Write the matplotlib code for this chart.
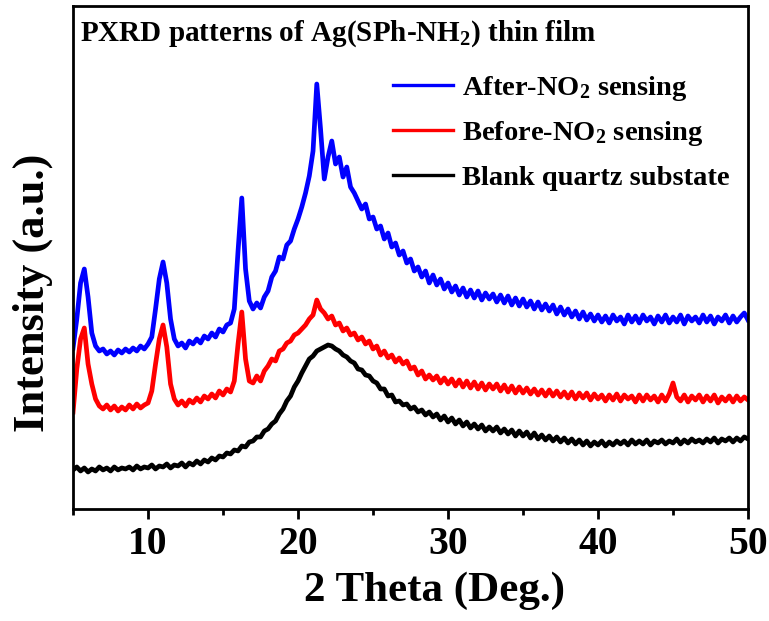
import numpy as np
import matplotlib
matplotlib.use("Agg")
import matplotlib.pyplot as plt
from matplotlib.ticker import MultipleLocator

plt.rcParams['font.family'] = ['Liberation Serif', 'DejaVu Serif']
plt.rcParams['font.weight'] = 'bold'
plt.rcParams['mathtext.fontset'] = 'custom'
plt.rcParams['mathtext.rm'] = 'Liberation Serif:bold'
plt.rcParams['mathtext.bf'] = 'Liberation Serif:bold'
plt.rcParams['mathtext.it'] = 'Liberation Serif:bold'

# 2 theta grid: 5.00 .. 50.00 in 0.25 deg steps
two_theta = np.arange(5.0, 50.001, 0.25)

after_no2 = [
    161, 190, 226, 240, 212, 176, 163, 158,
    160, 155, 158, 154, 159, 156, 160, 157,
    161, 158, 163, 160, 165, 172, 200, 230,
    247, 226, 190, 170, 163, 166, 161, 168,
    165, 170, 166, 173, 170, 176, 172, 180,
    177, 184, 186, 200, 258, 311, 240, 208,
    200, 206, 201, 212, 218, 232, 238, 252,
    250, 264, 268, 280, 290, 302, 316, 333,
    358, 425, 380, 330, 352, 368, 345, 352,
    332, 342, 322, 316, 308, 300, 305, 290,
    292, 280, 283, 270, 276, 262, 266, 254,
    258, 246, 250, 238, 242, 232, 238, 226,
    234, 224, 230, 220, 226, 217, 223, 214,
    221, 212, 219, 211, 218, 209, 216, 210,
    215, 207, 214, 206, 213, 204, 211, 203,
    210, 202, 208, 200, 207, 199, 205, 198,
    204, 195, 202, 194, 200, 192, 198, 190,
    197, 189, 195, 188, 194, 187, 193, 186,
    194, 188, 192, 185, 194, 187, 193, 186,
    194, 188, 192, 185, 193, 187, 194, 186,
    192, 187, 194, 185, 193, 188, 192, 186,
    194, 187, 193, 185, 192, 188, 194, 186,
    193, 187, 192, 196, 189,
]

before_no2 = [
    97, 140, 170, 181, 145, 125, 110, 103,
    100, 104, 99, 103, 98, 102, 99, 104,
    100, 105, 101, 104, 106, 118, 145, 170,
    184, 162, 125, 110, 104, 108, 103, 109,
    106, 111, 107, 113, 110, 115, 111, 118,
    114, 120, 117, 128, 165, 197, 150, 128,
    126, 133, 128, 138, 143, 150, 148, 158,
    160, 166, 168, 174, 176, 180, 184, 190,
    194, 209, 200, 196, 190, 193, 184, 186,
    178, 181, 174, 176, 169, 172, 165, 168,
    160, 163, 154, 158, 151, 154, 147, 151,
    145, 148, 140, 142, 134, 138, 130, 134,
    129, 133, 126, 131, 125, 130, 123, 129,
    122, 128, 121, 127, 120, 126, 119, 125,
    120, 125, 118, 124, 117, 123, 116, 122,
    116, 121, 115, 120, 114, 119, 113, 119,
    113, 118, 112, 117, 111, 117, 110, 116,
    111, 116, 109, 115, 110, 114, 108, 114,
    109, 115, 108, 114, 110, 113, 107, 114,
    108, 114, 109, 113, 107, 114, 108, 115,
    126, 112, 108, 114, 107, 113, 109, 114,
    107, 113, 108, 114, 106, 112, 108, 113,
    107, 113, 108, 112, 109,
]

blank_quartz = [
    39, 42, 38, 41, 37, 40, 38, 42,
    39, 41, 38, 42, 39, 41, 40, 42,
    39, 43, 40, 42, 41, 44, 40, 43,
    42, 45, 41, 44, 43, 46, 42, 46,
    44, 48, 45, 49, 47, 51, 49, 53,
    52, 56, 55, 59, 58, 63, 62, 67,
    68, 72, 72, 78, 80, 85, 88, 95,
    100, 108, 113, 122, 128, 136, 143, 150,
    153, 158, 160, 162, 164, 163, 160, 158,
    154, 152, 148, 146, 140, 139, 134, 133,
    128, 126, 120, 120, 113, 114, 107, 108,
    104, 105, 100, 102, 97, 99, 94, 97,
    92, 95, 89, 93, 87, 91, 85, 89,
    83, 87, 81, 85, 80, 84, 78, 82,
    78, 82, 76, 80, 75, 79, 73, 78,
    73, 77, 71, 76, 70, 74, 69, 73,
    68, 72, 67, 71, 66, 70, 65, 69,
    64, 68, 63, 67, 64, 68, 63, 67,
    64, 68, 65, 68, 64, 69, 65, 68,
    65, 69, 64, 68, 66, 69, 65, 68,
    66, 70, 65, 69, 66, 70, 67, 69,
    66, 70, 67, 71, 66, 70, 68, 71,
    67, 71, 68, 72, 70,
]

series_labels = ['After-NO$_2$ sensing', 'Before-NO$_2$ sensing', 'Blank quartz substate']
series_colors = ['#0000FF', '#FF0000', '#000000']
title_text = 'PXRD patterns of Ag(SPh-NH$_2$) thin film'
x_ticks = [10, 20, 30, 40, 50]

fig = plt.figure(figsize=(7.69, 6.21), dpi=100)
ax = fig.add_axes([0.095, 0.1804, 0.8777, 0.8099])

handles = []
for vals, lab, col in zip([after_no2, before_no2, blank_quartz], series_labels, series_colors):
    h, = ax.plot(two_theta, vals, color=col, lw=3.4, label=lab)
    handles.append(h)

ax.set_xlim(5, 50)
ax.set_ylim(0, 503)
ax.set_xticks(x_ticks)
ax.xaxis.set_minor_locator(MultipleLocator(5))
ax.set_yticks([])
ax.tick_params(axis='x', which='major', direction='out', length=7, width=2, labelsize=28.5, pad=5)
ax.tick_params(axis='x', which='minor', direction='out', length=4, width=2)
for lab in ax.get_xticklabels():
    lab.set_fontweight('bold')
for sp in ax.spines.values():
    sp.set_linewidth(2)

ax.set_xlabel('2 Theta (Deg.)', fontsize=31, fontweight='bold')
ax.xaxis.set_label_coords(0.535, -0.125)
ax.set_ylabel('Intensity (a.u.)', fontsize=32, fontweight='bold')
ax.yaxis.set_label_coords(-0.03, 0.43)

ax.text(0.011, 0.975, title_text, transform=ax.transAxes, fontsize=21,
        fontweight='bold', va='top', ha='left')

leg = ax.legend(handles=handles, loc='upper left', bbox_to_anchor=(0.474, 0.865),
                frameon=False, fontsize=20.5, handlelength=2.1, handletextpad=0.33,
                labelspacing=0.58, borderaxespad=0, borderpad=0)
for t in leg.get_texts():
    t.set_fontweight('bold')
for l in leg.get_lines():
    l.set_linewidth(2.4)

fig.savefig('out.png', dpi=100, facecolor='white')
